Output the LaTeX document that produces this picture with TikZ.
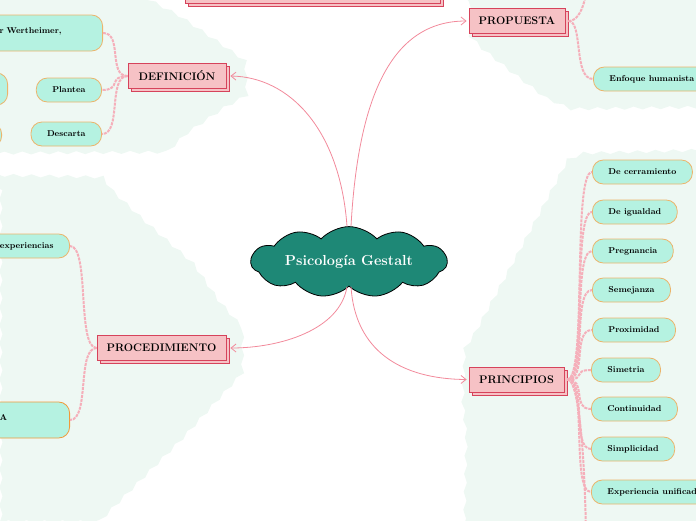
\documentclass[tikz,border=0pt]{standalone}
\usepackage{fontspec}
\usepackage{tikz}
\usetikzlibrary{
    arrows.meta,
    shapes.symbols,
    shadows,
    decorations.pathmorphing
}
\definecolor{bgmint}{HTML}{EEF8F3}
\definecolor{cloudteal}{HTML}{1E8876}
\definecolor{branchfill}{HTML}{F6C2C5}
\definecolor{branchedge}{HTML}{D6435B}
\definecolor{leaffill}{HTML}{B5F2E1}
\definecolor{leafedge}{HTML}{ECB46B}
\definecolor{leafedgedark}{HTML}{F09A3A}
\definecolor{linkpink}{HTML}{F28A9B}
\definecolor{leafpink}{HTML}{F5AFBA}
\tikzset
{
  region/.style={fill=bgmint,decorate,decoration={snake,segment length=18pt,amplitude=1.5pt}},
  topic/.style={cloud,cloud puffs=11,cloud puff arc=95,aspect=3.6,draw=black,thick,fill=cloudteal,text=white,font=\fontsize{14.5}{16}\selectfont\bfseries,minimum width=196pt,minimum height=44pt,inner sep=0pt},
  branch/.style={draw=branchedge,fill=branchfill,thick,minimum height=25pt,inner xsep=6pt,font=\fontsize{11}{13}\selectfont\bfseries,copy shadow={shadow xshift=3pt,shadow yshift=-3pt}},
  leaf/.style={draw=leafedge,fill=leaffill,thick,rounded corners=11pt,minimum height=24pt,inner xsep=16pt,font=\fontsize{8.5}{10}\selectfont\bfseries},
  mainlink/.style={draw=linkpink,thick,-{Straight Barb[length=5pt,width=8pt]}},
  leaflink/.style={draw=leafpink,line width=2pt,dash pattern=on 3pt off 1pt}
}

\begin{document}
\begin{tikzpicture}[x=1pt,y=-1pt]
    \useasboundingbox (0,0) rectangle (696,520);

    % Background regions
    \fill[region] (-10,-10) -- (128,-10) -- (175,15) -- (215,42) -- (238,58) -- (240,100) -- (218,112) -- (180,138) -- (160,157) -- (-10,158) -- cycle;
    \fill[region] (463,-10) -- (706,-10) -- (706,108) -- (560,110) -- (537,100) -- (500,72) -- (475,52) -- (463,40) -- cycle;
    \fill[region] (-10,175) -- (95,177) -- (110,198) -- (140,226) -- (187,267) -- (213,305) -- (235,330) -- (235,374) -- (170,445) -- (90,525) -- (-10,525) -- cycle;
    \fill[region] (706,150) -- (590,153) -- (568,162) -- (540,215) -- (505,280) -- (478,330) -- (468,345) -- (466,400) -- (470,440) -- (468,530) -- (706,530) -- cycle;

    % Central topic
    \node[topic] (gestalt) at (349,262) {Psicología Gestalt};

    % Main branches
    \node[branch,minimum width=98pt] (definicion) at (177,76) {DEFINICIÓN};
    \node[branch,minimum width=96pt] (propuesta) at (517,21) {PROPUESTA};
    \node[branch,minimum width=129pt] (procedimiento) at (161.5,348) {PROCEDIMIENTO};
    \node[branch,minimum width=95pt] (principios) at (516.5,379.5) {PRINCIPIOS};
    \node[branch,minimum width=255pt,anchor=south] (arriba) at (313,3.5) {};

    % Links from the topic
    \draw[mainlink] ([xshift=-2pt]gestalt.north) .. controls (340,130) and (290,77) .. ([xshift=4pt]definicion.east);
    \draw[mainlink] ([xshift=2pt]gestalt.north) .. controls (358,100) and (390,21) .. ([xshift=-2pt]propuesta.west);
    \draw[mainlink] ([xshift=-2pt]gestalt.south) .. controls (340,330) and (280,348) .. ([xshift=4pt]procedimiento.east);
    \draw[mainlink] ([xshift=2pt]gestalt.south) .. controls (355,350) and (400,379) .. ([xshift=-2pt]principios.west);

    % DEFINICION leaves
    \node[leaf,anchor=east,minimum height=36pt,text width=87pt,align=left] (wertheimer) at (103,33) {\raisebox{4pt}{r Wertheimer,}};
    \node[leaf,anchor=east] (plantea) at (102,90) {Plantea};
    \node[leaf,anchor=east] (descarta) at (102,134) {Descarta};
    \node[leaf,anchor=east,minimum width=40pt,minimum height=32pt] (restoA) at (8,89) {};
    \node[leaf,anchor=east,minimum width=40pt] (restoB) at (2,135) {};
    \draw[leaflink] (definicion.west) .. controls +(-20,0) and +(20,0) .. (wertheimer.east);
    \draw[leaflink] (definicion.west) .. controls +(-20,0) and +(20,0) .. (plantea.east);
    \draw[leaflink] (definicion.west) .. controls +(-20,0) and +(20,0) .. (descarta.east);

    % PROPUESTA leaves
    \node[leaf,anchor=west] (humanista) at (593,79) {Enfoque humanista};
    \coordinate (propuestaUp) at (588,-30);
    \draw[leaflink] ([xshift=3pt]propuesta.east) .. controls +(15,0) and +(0,20) .. (propuestaUp);
    \draw[leaflink] ([xshift=3pt]propuesta.east) .. controls +(15,0) and +(-20,0) .. (humanista.west);

    % PROCEDIMIENTO leaves
    \node[leaf,anchor=east] (experiencias) at (70,246) {experiencias};
    \node[leaf,draw=leafedgedark,anchor=east,minimum height=36pt,text width=54pt,align=left] (acaso) at (70,420) {\raisebox{4pt}{A}};
    \draw[leaflink] (procedimiento.west) .. controls +(-20,0) and +(20,0) .. (experiencias.east);
    \draw[leaflink] (procedimiento.west) .. controls +(-20,0) and +(20,0) .. (acaso.east);

    % PRINCIPIOS leaves
    \node[leaf,anchor=west] (cerramiento) at (592,172) {De cerramiento};
    \node[leaf,anchor=west] (igualdad) at (592,212) {De igualdad};
    \node[leaf,anchor=west] (pregnancia) at (592,251) {Pregnancia};
    \node[leaf,anchor=west] (semejanza) at (592,290) {Semejanza};
    \node[leaf,anchor=west] (proximidad) at (592,330) {Proximidad};
    \node[leaf,anchor=west] (simetria) at (591,370) {Simetria};
    \node[leaf,anchor=west] (continuidad) at (591,409) {Continuidad};
    \node[leaf,anchor=west] (simplicidad) at (591,449) {Simplicidad};
    \node[leaf,anchor=west] (unificada) at (591,492) {Experiencia unificada};
    \coordinate (principiosDown) at (586,545);
    \draw[leaflink] ([xshift=3pt]principios.east) .. controls +(20,0) and +(-20,0) .. (cerramiento.west);
    \draw[leaflink] ([xshift=3pt]principios.east) .. controls +(20,0) and +(-20,0) .. (igualdad.west);
    \draw[leaflink] ([xshift=3pt]principios.east) .. controls +(20,0) and +(-20,0) .. (pregnancia.west);
    \draw[leaflink] ([xshift=3pt]principios.east) .. controls +(20,0) and +(-20,0) .. (semejanza.west);
    \draw[leaflink] ([xshift=3pt]principios.east) .. controls +(20,0) and +(-20,0) .. (proximidad.west);
    \draw[leaflink] ([xshift=3pt]principios.east) .. controls +(20,0) and +(-20,0) .. (simetria.west);
    \draw[leaflink] ([xshift=3pt]principios.east) .. controls +(20,0) and +(-20,0) .. (continuidad.west);
    \draw[leaflink] ([xshift=3pt]principios.east) .. controls +(20,0) and +(-20,0) .. (simplicidad.west);
    \draw[leaflink] ([xshift=3pt]principios.east) .. controls +(20,0) and +(-20,0) .. (unificada.west);
    \draw[leaflink] ([xshift=3pt]principios.east) .. controls +(15,0) and +(0,-40) .. (principiosDown);
\end{tikzpicture}
\end{document}
